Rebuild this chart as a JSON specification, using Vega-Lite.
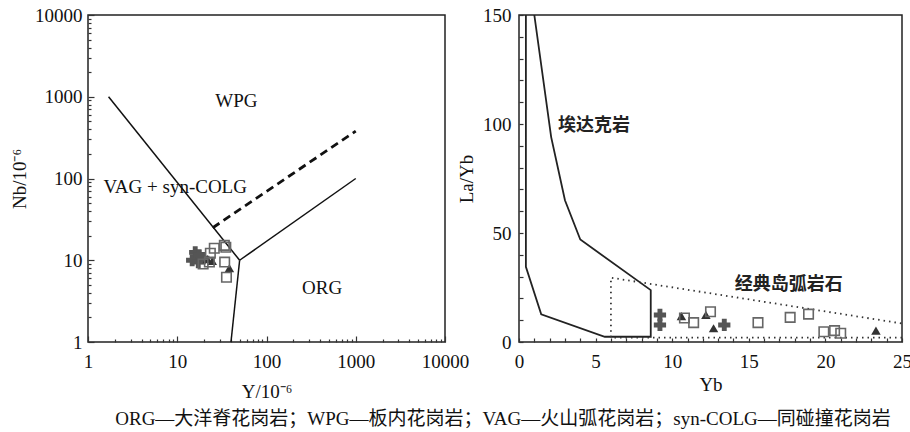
{
  "$schema": "https://vega.github.io/schema/vega-lite/v6.json",
  "background": "white",
  "padding": {"left": 9, "top": 5, "right": 0, "bottom": 0},
  "bounds": "flush",
  "spacing": 74,
  "title": {
    "text": "ORG—大洋脊花岗岩；WPG—板内花岗岩；VAG—火山弧花岗岩；syn-COLG—同碰撞花岗岩",
    "orient": "bottom",
    "anchor": "middle",
    "font": "Liberation Serif, Noto Sans CJK SC",
    "fontSize": 19,
    "fontWeight": "normal",
    "color": "#111",
    "offset": 8,
    "dx": 42
  },
  "datasets": {
    "left": [
      {"kind": "solid", "seg": "a", "ord": 1, "Y": 1.7, "Nb": 1000},
      {"kind": "solid", "seg": "a", "ord": 2, "Y": 50, "Nb": 10},
      {"kind": "solid", "seg": "b", "ord": 1, "Y": 50, "Nb": 10},
      {"kind": "solid", "seg": "b", "ord": 2, "Y": 1000, "Nb": 100},
      {"kind": "solid", "seg": "c", "ord": 1, "Y": 50, "Nb": 10},
      {"kind": "solid", "seg": "c", "ord": 2, "Y": 40, "Nb": 1},
      {"kind": "dashed", "seg": "d", "ord": 1, "Y": 25, "Nb": 25},
      {"kind": "dashed", "seg": "d", "ord": 2, "Y": 1000, "Nb": 380},
      {"kind": "cross", "Y": 15.9, "Nb": 12.5},
      {"kind": "cross", "Y": 14.7, "Nb": 10},
      {"kind": "cross", "Y": 17.2, "Nb": 9.5},
      {"kind": "cross", "Y": 19.6, "Nb": 10.6},
      {"kind": "cross", "Y": 17.6, "Nb": 11.5},
      {"kind": "triangle", "Y": 21.7, "Nb": 10.3},
      {"kind": "triangle", "Y": 24.7, "Nb": 9.8},
      {"kind": "triangle", "Y": 38.4, "Nb": 8.0},
      {"kind": "square", "Y": 26, "Nb": 14},
      {"kind": "square", "Y": 23.5, "Nb": 12.2},
      {"kind": "square", "Y": 33.7, "Nb": 15.2},
      {"kind": "square", "Y": 35, "Nb": 14.4},
      {"kind": "square", "Y": 34, "Nb": 9.5},
      {"kind": "square", "Y": 35.6, "Nb": 6.2},
      {"kind": "square", "Y": 22.9, "Nb": 9.5},
      {"kind": "square", "Y": 19.5, "Nb": 9},
      {"kind": "label", "Y": 46, "Nb": 880, "label": "WPG"},
      {"kind": "label", "Y": 9.5, "Nb": 78, "label": "VAG + syn-COLG"},
      {"kind": "label", "Y": 420, "Nb": 4.6, "label": "ORG"}
    ],
    "right": [
      {"kind": "solid", "ord": 1, "Yb": 0.45, "LaYb": 150},
      {"kind": "solid", "ord": 2, "Yb": 0.45, "LaYb": 34.5},
      {"kind": "solid", "ord": 3, "Yb": 1.45, "LaYb": 12.7},
      {"kind": "solid", "ord": 4, "Yb": 5.6, "LaYb": 2.4},
      {"kind": "solid", "ord": 5, "Yb": 8.6, "LaYb": 2.4},
      {"kind": "solid", "ord": 6, "Yb": 8.6, "LaYb": 23.8},
      {"kind": "solid", "ord": 7, "Yb": 4.0, "LaYb": 47},
      {"kind": "solid", "ord": 8, "Yb": 3.0, "LaYb": 65},
      {"kind": "solid", "ord": 9, "Yb": 2.1, "LaYb": 94},
      {"kind": "solid", "ord": 10, "Yb": 1.0, "LaYb": 150},
      {"kind": "dotted", "ord": 1, "Yb": 25, "LaYb": 2.0},
      {"kind": "dotted", "ord": 2, "Yb": 6.0, "LaYb": 2.0},
      {"kind": "dotted", "ord": 3, "Yb": 6.0, "LaYb": 29.5},
      {"kind": "dotted", "ord": 4, "Yb": 25, "LaYb": 8.5},
      {"kind": "cross", "Yb": 9.2, "LaYb": 12.4},
      {"kind": "cross", "Yb": 9.2, "LaYb": 7.8},
      {"kind": "cross", "Yb": 13.4, "LaYb": 7.8},
      {"kind": "triangle", "Yb": 10.6, "LaYb": 11.9},
      {"kind": "triangle", "Yb": 12.2, "LaYb": 12.4},
      {"kind": "triangle", "Yb": 12.7, "LaYb": 6.3},
      {"kind": "triangle", "Yb": 23.3, "LaYb": 5.2},
      {"kind": "square", "Yb": 10.8, "LaYb": 11.0},
      {"kind": "square", "Yb": 11.4, "LaYb": 8.9},
      {"kind": "square", "Yb": 12.5, "LaYb": 13.9},
      {"kind": "square", "Yb": 15.6, "LaYb": 8.9},
      {"kind": "square", "Yb": 17.7, "LaYb": 11.3},
      {"kind": "square", "Yb": 18.9, "LaYb": 12.8},
      {"kind": "square", "Yb": 19.9, "LaYb": 4.7},
      {"kind": "square", "Yb": 20.6, "LaYb": 5.2},
      {"kind": "square", "Yb": 21.0, "LaYb": 4.0},
      {"kind": "label", "Yb": 4.9, "LaYb": 99, "label": "埃达克岩"},
      {"kind": "label", "Yb": 17.6, "LaYb": 26, "label": "经典岛弧岩石"}
    ]
  },
  "config": {
    "font": "Liberation Serif",
    "view": {"stroke": "#222", "strokeWidth": 1.5},
    "axis": {
      "labelFontSize": 19,
      "titleFontSize": 19,
      "titleFontWeight": "normal",
      "labelColor": "#111",
      "titleColor": "#111",
      "tickColor": "#333",
      "tickWidth": 1.2,
      "domain": false,
      "grid": false,
      "labelFlush": false,
      "labelOverlap": false
    }
  },
  "hconcat": [
    {
      "width": 357,
      "height": 327,
      "data": {"name": "left"},
      "encoding": {
        "x": {
          "field": "Y",
          "type": "quantitative",
          "title": "Y/10⁻⁶",
          "scale": {"type": "log", "domain": [1, 10000], "nice": false},
          "axis": {
            "values": [1,2,3,4,5,6,7,8,9,10,20,30,40,50,60,70,80,90,100,200,300,400,500,600,700,800,900,1000,2000,3000,4000,5000,6000,7000,8000,9000,10000],
            "labelExpr": "indexof([1,10,100,1000,10000], datum.value) >= 0 ? format(datum.value, 'd') : ''",
            "tickSize": {"condition": {"test": "indexof([1,10,100,1000,10000], datum.value) >= 0", "value": -6}, "value": -3},
            "labelPadding": 16,
            "titlePadding": 8
          }
        },
        "y": {
          "field": "Nb",
          "type": "quantitative",
          "title": "Nb/10⁻⁶",
          "scale": {"type": "log", "domain": [1, 10000], "nice": false},
          "axis": {
            "values": [1,2,3,4,5,6,7,8,9,10,20,30,40,50,60,70,80,90,100,200,300,400,500,600,700,800,900,1000,2000,3000,4000,5000,6000,7000,8000,9000,10000],
            "labelExpr": "indexof([1,10,100,1000,10000], datum.value) >= 0 ? format(datum.value, 'd') : ''",
            "tickSize": {"condition": {"test": "indexof([1,10,100,1000,10000], datum.value) >= 0", "value": -6}, "value": -3},
            "labelPadding": 12,
            "titlePadding": 5
          }
        }
      },
      "layer": [
        {
          "transform": [{"filter": "datum.kind == 'solid'"}],
          "mark": {"type": "line", "color": "#111", "strokeWidth": 1.5},
          "encoding": {"detail": {"field": "seg"}, "order": {"field": "ord"}}
        },
        {
          "transform": [{"filter": "datum.kind == 'dashed'"}],
          "mark": {"type": "line", "color": "#111", "strokeWidth": 2.8, "strokeDash": [8, 5]},
          "encoding": {"order": {"field": "ord"}}
        },
        {
          "transform": [{"filter": "datum.kind == 'cross'"}],
          "mark": {"type": "point", "shape": "cross", "filled": true, "color": "#555", "opacity": 1, "size": 150}
        },
        {
          "transform": [{"filter": "datum.kind == 'triangle'"}],
          "mark": {"type": "point", "shape": "triangle-up", "filled": true, "color": "#333", "opacity": 1, "size": 90}
        },
        {
          "transform": [{"filter": "datum.kind == 'square'"}],
          "mark": {"type": "point", "shape": "square", "filled": false, "color": "#666", "strokeWidth": 1.6, "opacity": 1, "size": 90}
        },
        {
          "transform": [{"filter": "datum.kind == 'label'"}],
          "mark": {"type": "text", "fontSize": 19, "color": "#111", "align": "center", "baseline": "middle"},
          "encoding": {"text": {"field": "label"}}
        }
      ]
    },
    {
      "width": 383,
      "height": 327,
      "data": {"name": "right"},
      "encoding": {
        "x": {
          "field": "Yb",
          "type": "quantitative",
          "title": "Yb",
          "scale": {"domain": [0, 25], "nice": false, "zero": false},
          "axis": {
            "values": [0,1,2,3,4,5,6,7,8,9,10,11,12,13,14,15,16,17,18,19,20,21,22,23,24,25],
            "labelExpr": "datum.value % 5 == 0 ? format(datum.value, 'd') : ''",
            "tickSize": -4,
            "labelPadding": 14,
            "titlePadding": 4
          }
        },
        "y": {
          "field": "LaYb",
          "type": "quantitative",
          "title": "La/Yb",
          "scale": {"domain": [0, 150], "nice": false},
          "axis": {
            "values": [0,10,20,30,40,50,60,70,80,90,100,110,120,130,140,150],
            "labelExpr": "datum.value % 50 == 0 ? format(datum.value, 'd') : ''",
            "tickSize": -4,
            "labelPadding": 12,
            "titlePadding": 6
          }
        }
      },
      "layer": [
        {
          "transform": [{"filter": "datum.kind == 'solid'"}],
          "mark": {"type": "line", "color": "#222", "strokeWidth": 1.8},
          "encoding": {"order": {"field": "ord"}}
        },
        {
          "transform": [{"filter": "datum.kind == 'dotted'"}],
          "mark": {"type": "line", "color": "#333", "strokeWidth": 1.8, "strokeDash": [1.5, 4]},
          "encoding": {"order": {"field": "ord"}}
        },
        {
          "transform": [{"filter": "datum.kind == 'cross'"}],
          "mark": {"type": "point", "shape": "cross", "filled": true, "color": "#555", "opacity": 1, "size": 150}
        },
        {
          "transform": [{"filter": "datum.kind == 'triangle'"}],
          "mark": {"type": "point", "shape": "triangle-up", "filled": true, "color": "#333", "opacity": 1, "size": 90}
        },
        {
          "transform": [{"filter": "datum.kind == 'square'"}],
          "mark": {"type": "point", "shape": "square", "filled": false, "color": "#666", "strokeWidth": 1.6, "opacity": 1, "size": 90}
        },
        {
          "transform": [{"filter": "datum.kind == 'label'"}],
          "mark": {"type": "text", "font": "Noto Sans CJK SC", "fontSize": 18, "fontWeight": "bold", "color": "#222", "align": "center", "baseline": "middle", "letterSpacing": 3},
          "encoding": {"text": {"field": "label"}}
        }
      ]
    }
  ]
}
